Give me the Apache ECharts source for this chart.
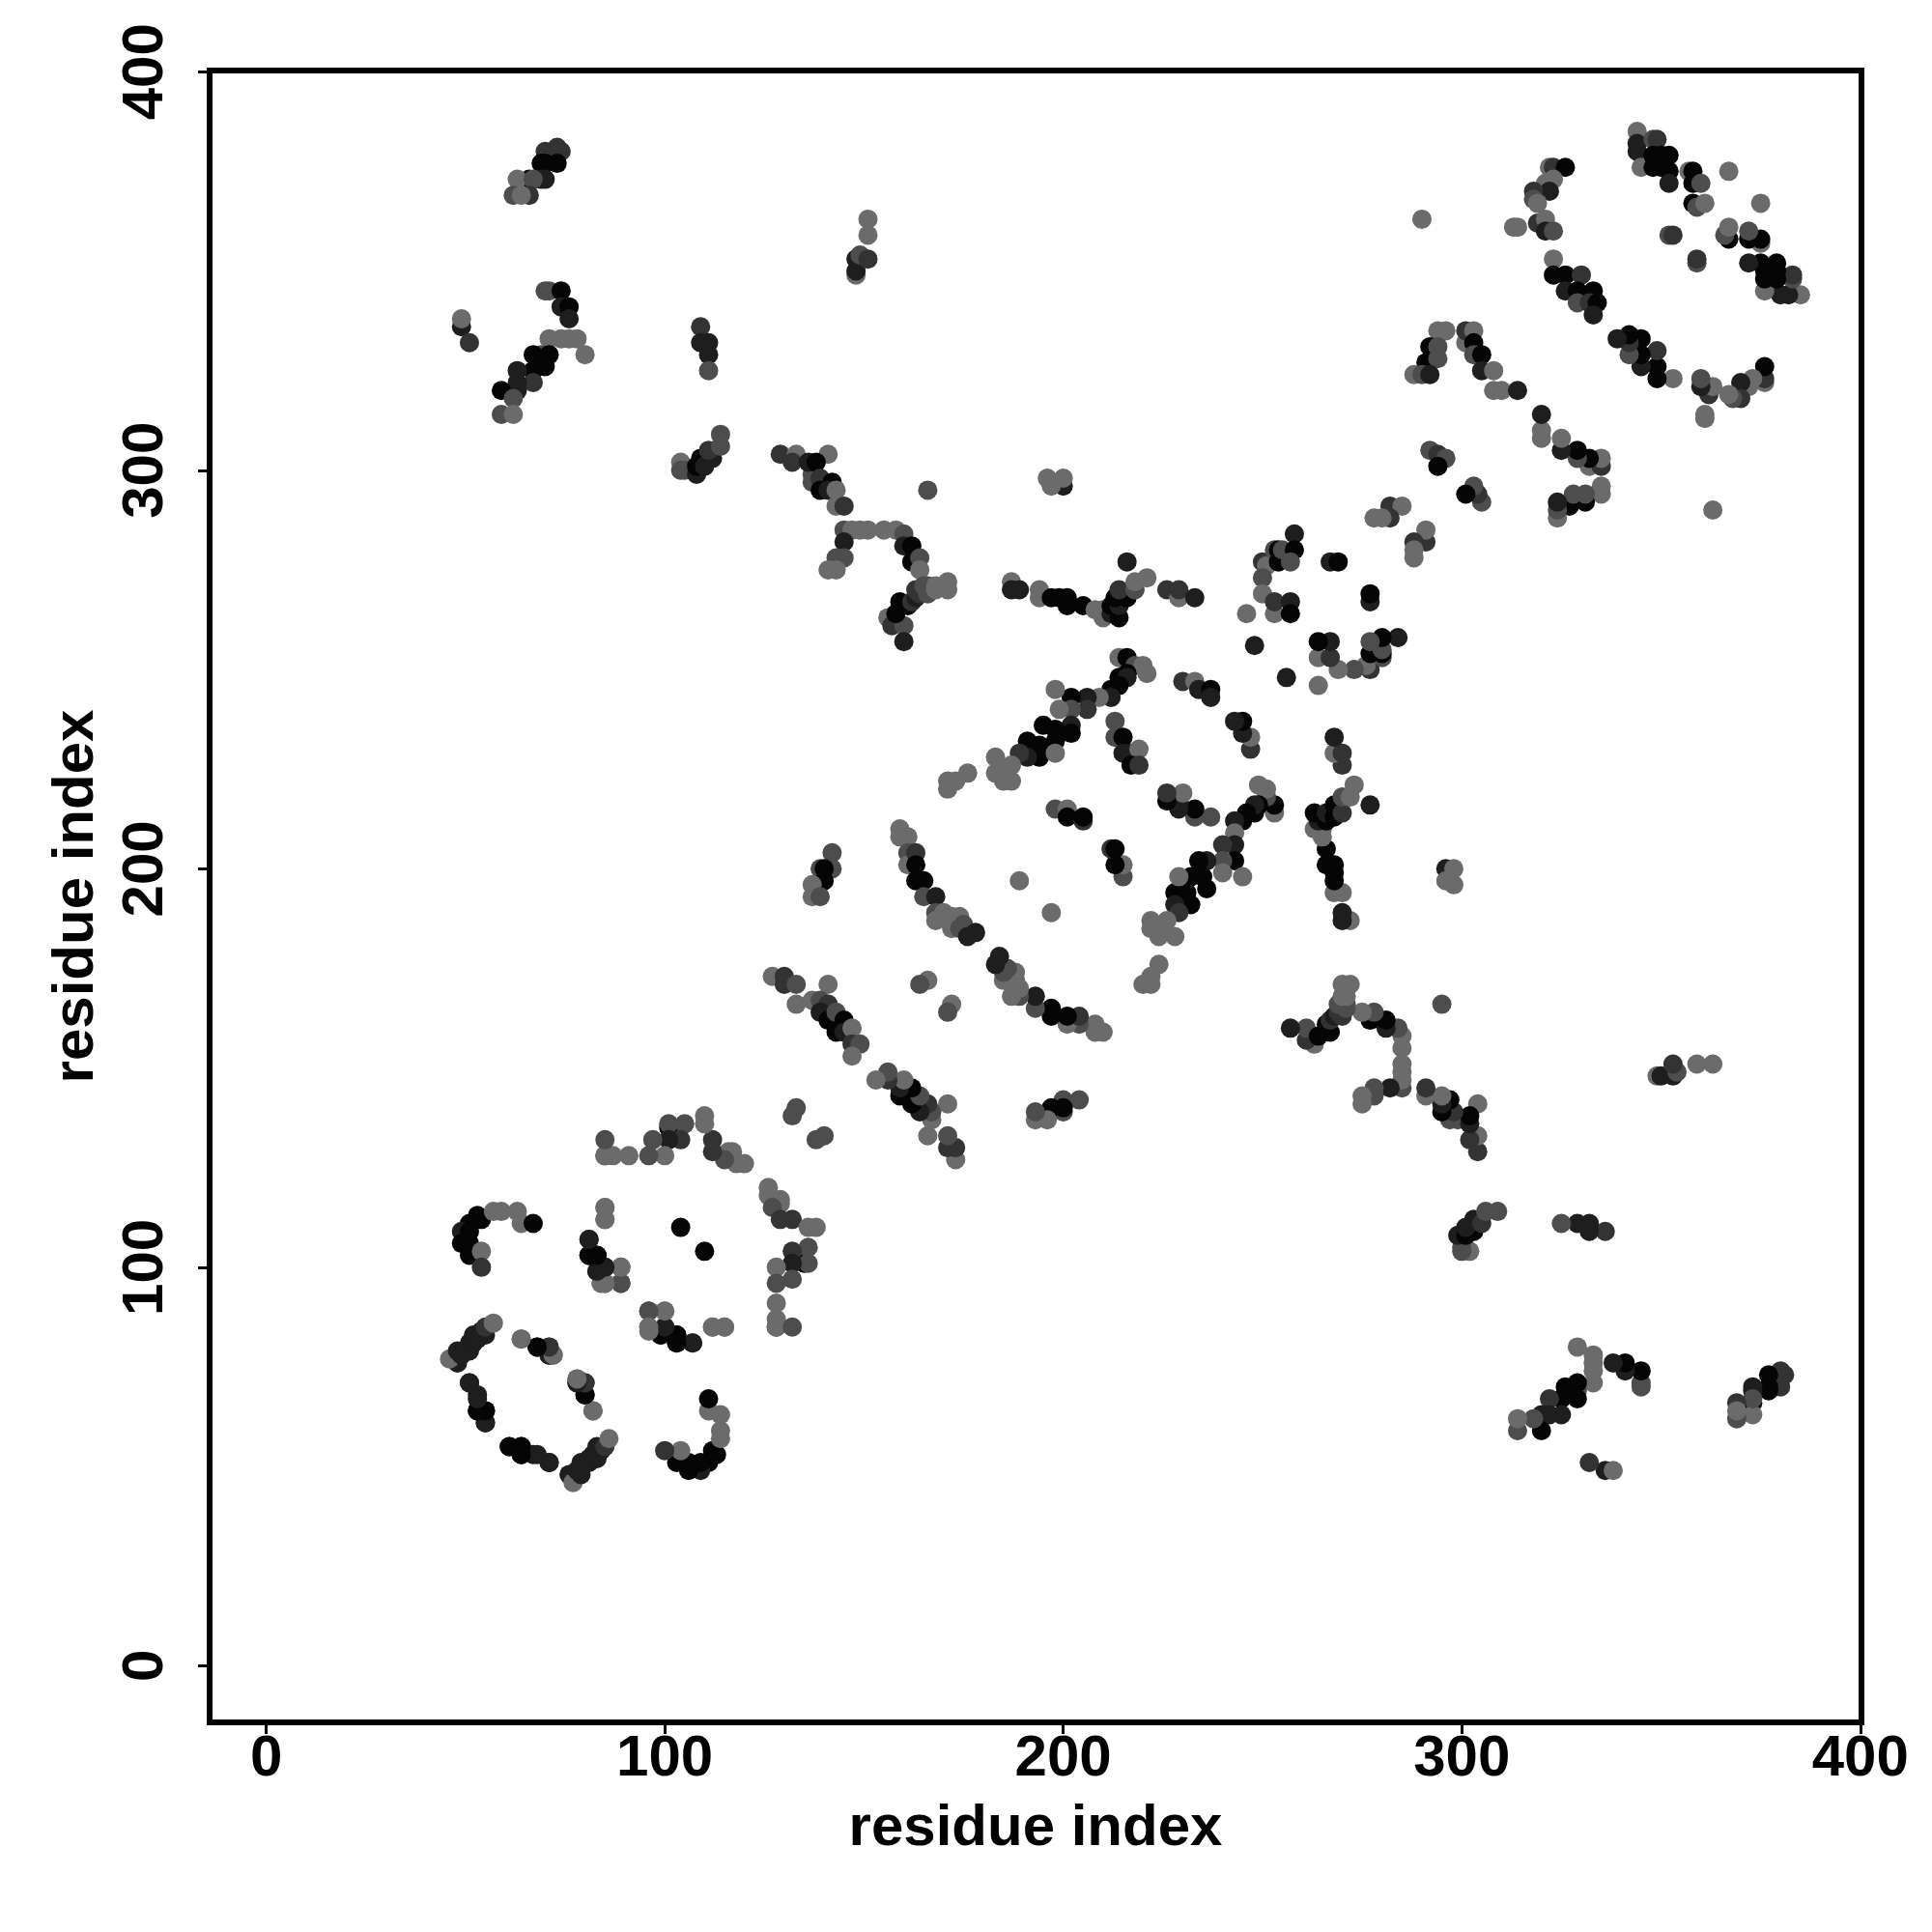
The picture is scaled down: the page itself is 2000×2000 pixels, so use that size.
<!DOCTYPE html>
<html>
<head>
<meta charset="utf-8">
<style>html,body{margin:0;padding:0;background:#fff}#c{width:2000px;height:2000px}</style>
<script src="https://cdn.jsdelivr.net/npm/echarts@6/dist/echarts.min.js"></script>
</head>
<body>
<div id="c"></div>
<script>
// Each contact: [residue i, residue j, contact level 0 (strongest) .. 4 (weakest)]
// A contact map is symmetric: every pair is plotted at (i,j) and (j,i).
const tickValues = [0, 100, 200, 300, 400];
const axisTitle = 'residue index';
const contactsFarA = [[73,381,2],[74,380,2],[70,380,2],[69,377,0],[73,377,0],[70,377,0],[70,373,1],[66,373,0],[69,373,1],[63,373,4],[67,373,3],[66,369,2],[62,369,3],[64,369,4],
[70,345,3],[71,345,3],[74,345,0],[74,341,1],[76,341,0],[76,338,1],[71,333,4],[74,333,4],[76,333,4],[78,333,4],[80,329,4],[69,329,3],[71,329,0],[67,329,0],[70,326,0],[67,325,0],[67,322,2],[63,325,1],[63,322,1],[63,320,1],[59,320,0],[62,318,3],[59,314,3],[62,314,4],
[49,336,1],[49,338,4],[51,332,2],[109,336,2],[109,332,1],[111,332,1],[111,329,1],[111,325,3],
[104,302,4],[104,300,3],[105,300,3],[108,299,1],[108,301,0],[109,303,0],[110,301,1],[112,303,1],[111,305,2],[114,309,3],[114,306,3]];
const contactsFarB = [[151,363,4],[151,359,4],[148,349,4],[148,350,1],[148,353,1],[149,354,3],[151,353,2],
[129,304,2],[133,304,4],[141,304,4],[132,302,2],[137,299,3],[137,297,3],[136,302,1],[138,302,0],[139,298,2],[142,297,0],[139,295,0],[141,295,1],[143,295,4],[143,291,4],[145,291,2],
[145,285,3],[147,285,4],[149,285,4],[151,285,4],[155,285,4],[158,285,4],[160,284,3],[160,281,1],[162,281,0],[162,277,0],[164,278,3],[164,275,4],[145,282,1],[143,278,3],[145,278,3],[141,275,4],[143,275,4],
[156,263,4],[157,261,2],[160,261,3],[160,257,1],[158,264,0],[159,267,0],[161,266,0],[162,267,2],[163,268,1],[163,270,2],[164,269,2],[165,271,3],[166,271,3],[166,269,3],[168,271,4],[168,270,4],[170,271,4],[171,272,4],[171,270,4],
[166,295,3],[196,298,4],[200,296,1],[200,298,4],[197,296,4],
[187,272,4],[187,270,1],[189,270,1],[194,270,4],[194,268,4],[197,268,0],[199,268,0],[201,268,0],[201,266,0],[205,266,0],[208,265,4],[210,265,4],[210,263,4],[212,264,1],[214,263,0],[212,266,0],[214,266,1],[213,268,0],[216,268,0],[214,270,2],[216,277,1],[218,270,3],[218,272,4],[221,273,4],[226,270,2],[229,268,4],[229,270,2],[233,268,1],
[246,264,4],[250,277,2],[251,276,4],[250,273,3],[250,269,4],[253,264,4],[253,267,2],[257,267,1],[257,264,0],[253,280,3],[254,280,0],[254,277,0],[255,280,3],[258,284,1],[258,280,0],[257,277,3]];
const contactsTopRight = [[344,385,4],[344,382,1],[348,383,3],[349,383,2],[344,380,1],[345,376,4],[348,379,0],[350,379,0],[352,379,0],[348,376,0],[350,376,0],[352,375,0],[352,372,1],
[357,375,4],[358,375,0],[358,372,0],[360,372,3],[358,367,0],[359,366,3],[361,367,4],[367,375,4],[352,359,3],[353,359,2],
[322,376,4],[323,376,2],[326,376,0],[321,372,4],[323,373,4],[322,370,1],[318,370,2],[318,368,3],[319,367,4],
[313,361,4],[314,361,4],[319,362,2],[321,363,4],[321,360,1],[323,360,3],
[323,353,4],[323,349,0],[326,349,0],[330,349,2],[326,345,1],[329,345,0],[333,345,0],[329,342,3],[332,342,2],[334,342,0],[333,339,1],
[294,335,4],[296,335,4],[292,331,0],[294,331,3],[291,327,0],[294,328,3],[288,324,4],[290,324,3],[292,324,1],
[301,332,4],[301,335,2],[303,335,4],[303,332,0],[303,329,3],[305,329,0],[305,325,1],[308,325,4],[308,320,4],[310,320,4],[314,320,1],
[292,305,3],[294,304,2],[296,303,3],[294,301,0],
[282,291,2],[285,291,4],[282,288,2],[278,288,4],[280,288,4],[267,277,1],[269,277,0],[290,363,4]];
const contactsCentre = [[214,253,4],[216,253,0],[218,251,3],[220,251,4],[221,249,4],[216,249,0],[214,248,0],[216,248,1],[212,245,0],[214,246,0],[212,243,1],[209,243,4],
[206,243,1],[206,240,2],[202,243,0],[202,240,3],[202,236,1],[202,234,0],[198,245,4],[199,240,4],[198,235,0],[195,236,0],[198,232,0],[194,231,0],[191,232,0],[194,228,0],[191,228,1],[189,229,2],[198,229,4],
[183,228,4],[183,224,4],[185,224,4],[187,226,4],[185,222,4],[187,222,4],[176,224,4],[173,222,4],[171,222,4],[171,220,4],
[230,247,2],[233,247,4],[234,245,1],[237,245,0],[237,243,1],[248,256,1],
[213,237,3],[213,233,3],[215,233,0],[215,229,1],[217,229,1],[219,230,4],[217,226,0],[219,226,2],
[198,215,3],[201,215,4],[201,213,0],[205,212,2],[205,213,0],[189,197,4],
[159,210,4],[159,208,4],[161,208,4],[161,204,3],[161,201,4],[163,204,2],[163,201,0],[163,197,0],[165,197,0],[165,193,3],[168,193,1],[168,189,3],[170,189,4],[168,187,4],[172,188,4],[174,188,4],[172,185,4],[174,185,3],[175,186,3],[176,183,1],[178,184,1],
[142,204,3],[139,200,3],[142,200,3],[140,200,0],[140,197,0],[137,196,4],[137,193,4],[139,193,3],
[166,172,4],[164,171,3],
[127,173,4],[130,173,2],[130,171,2],[133,171,3],[141,171,4],[133,166,4],[137,167,4],[139,167,3],[141,166,2],[139,164,1],[141,162,0],[143,164,3],[145,162,0],[143,159,0],[145,159,1],[147,160,4],[147,156,2],[149,156,3],[147,153,4],
[133,140,3],[132,138,3]];
const contactsRing = [[48,76,1],[46,77,4],[48,79,1],[49,78,1],[51,79,1],[51,81,1],[52,81,1],[52,83,1],[53,82,1],[55,83,1],[54,84,1],[55,85,2],[57,86,4],[64,82,4],[68,80,0],[71,80,2],[71,78,1],[72,78,4],
[78,71,1],[78,72,4],[80,71,2],[80,68,0],[82,64,4],[51,71,1],[53,68,1],[53,64,0],[55,64,0],[55,61,0],[61,55,1],[64,55,0],[64,53,0],[67,53,1],[71,51,1],
[53,113,0],[54,112,0],[51,111,0],[49,109,1],[51,109,0],[49,106,0],[51,106,0],[51,103,0],[54,104,4],[54,100,2],[57,114,4],[59,114,4],[63,114,4],[64,111,4],[67,111,0],
[85,115,4],[85,112,4],[81,107,1],[81,103,0],[83,103,0],[83,99,0],[85,100,1],[89,100,4],[89,96,3],[84,96,4],[85,96,4],[104,110,0],
[96,89,3],[100,89,4],[96,85,4],[100,85,1],[99,83,1],[103,83,0],[103,81,0],[107,81,1],[112,85,4],[115,85,4]];
const contactsRingTop = [[126,120,4],[126,118,4],[129,117,4],[129,116,4],[127,115,3],[129,112,2],[132,112,2],[136,110,4],[138,110,4],
[135,101,0],[136,105,3],[136,101,3],[132,104,2],[132,101,1],[128,100,4],[128,96,3],[132,97,3],[128,91,4],[128,85,2],[128,87,4],[128,85,4],[132,85,3]];

const contactLevels = ['#050505', '#1e1e1e', '#333333', '#4d4d4d', '#6b6b6b'];
const contacts = [...contactsFarA, ...contactsFarB, ...contactsTopRight, ...contactsCentre, ...contactsRing, ...contactsRingTop];
const plotted = contacts.map(([i, j, s]) => [i, j, s]).concat(contacts.map(([i, j, s]) => [j, i, s]));

const font = '"Liberation Sans", Arimo, Helvetica, Arial, sans-serif';
const axisCommon = {
  type: 'value', min: -14.2, max: 400.3, splitLine: {show: false},
  axisLine: {show: false, onZero: false},
  axisTick: {show: true, length: 12, customValues: tickValues, lineStyle: {color: '#000', width: 3}},
  name: axisTitle, nameLocation: 'middle',
  nameTextStyle: {fontFamily: font, fontWeight: 'bold', fontSize: 60, color: '#000'}
};
const chart = echarts.init(document.getElementById('c'), null, {renderer: 'canvas', width: 2000, height: 2000});
chart.setOption({
  animation: false,
  backgroundColor: '#fff',
  grid: {left: 217, top: 73, width: 1710, height: 1710, show: true, borderColor: '#000', borderWidth: 6, backgroundColor: 'transparent', containLabel: false},
  xAxis: Object.assign({}, axisCommon, {
    nameGap: 80,
    axisLabel: {customValues: tickValues, margin: 8, fontFamily: font, fontWeight: 'bold', fontSize: 60, color: '#000', hideOverlap: false}
  }),
  yAxis: Object.assign({}, axisCommon, {
    nameGap: 108,
    axisLabel: {customValues: tickValues, rotate: 90, margin: 36, fontFamily: font, fontWeight: 'bold', fontSize: 60, color: '#000', hideOverlap: false}
  }),
  series: [{
    type: 'scatter', symbol: 'circle', symbolSize: 20, clip: false, silent: true,
    data: plotted,
    encode: {x: 0, y: 1},
    progressive: 0,
    itemStyle: {opacity: 1, color: p => contactLevels[p.value[2]]}
  }]
});
</script>
</body>
</html>
